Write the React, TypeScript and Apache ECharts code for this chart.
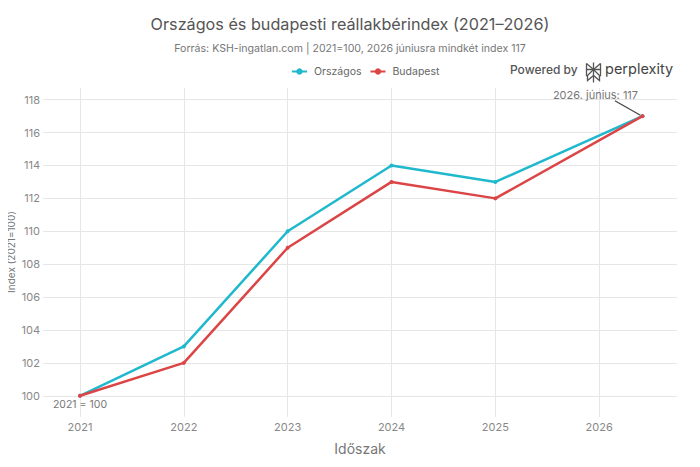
import React, { useEffect, useRef } from "react";
import * as echarts from "echarts";

// Decimal years: the last observation is June 2026
const periods = [2021, 2022, 2023, 2024, 2025, 2026 + 5 / 12];
const orszagos = [100, 103, 110, 114, 113, 117];
const budapest = [100, 102, 109, 113, 112, 117];
const yearTicks = [2021, 2022, 2023, 2024, 2025, 2026];

const FONT = "Inter, 'Liberation Sans', sans-serif";
const TEAL = "#1FB8CD";
const RED = "#DB4545";

export default function App() {
  const ref = useRef<HTMLDivElement>(null);

  useEffect(() => {
    if (!ref.current) return;
    const chart = echarts.init(ref.current, null, { renderer: "svg" });

    const toPairs = (vals: number[]) => periods.map((p, i) => [p, vals[i]]);
    const lastX = periods[periods.length - 1];

    chart.setOption({
      animation: false,
      backgroundColor: "#ffffff",
      textStyle: { fontFamily: FONT },
      title: {
        text: "Országos és budapesti reállakbérindex (2021–2026)",
        subtext: "Forrás: KSH-ingatlan.com | 2021=100, 2026 júniusra mindkét index 117",
        left: "center",
        top: 11,
        itemGap: 11,
        textStyle: { fontFamily: FONT, fontSize: 16.2, fontWeight: "normal", color: "#555" },
        subtextStyle: { fontFamily: FONT, fontSize: 10.6, color: "#777" },
      },
      legend: {
        top: 61,
        left: 286,
        itemWidth: 15,
        itemHeight: 8,
        itemGap: 8,
        textStyle: { fontFamily: FONT, fontSize: 10.5, color: "#666", padding: [0, 0, 0, 2] },
        data: ["Országos", "Budapest"],
      },
      grid: { left: 43, right: 23, top: 88, bottom: 50, containLabel: false, outerBoundsMode: "none" },
      xAxis: {
        type: "value",
        min: 2020.644,
        max: 2026.749,
        minInterval: 1,
        maxInterval: 1,
        name: "Időszak",
        nameLocation: "middle",
        nameGap: 24,
        nameMoveOverlap: false,
        nameTextStyle: { fontFamily: FONT, fontSize: 14, color: "#777" },
        axisLine: { show: false },
        axisTick: { show: false },
        axisLabel: {
          fontFamily: FONT,
          fontSize: 11,
          color: "#888",
          margin: 4,
          showMinLabel: false,
          showMaxLabel: false,
          formatter: (v: number) => (yearTicks.includes(Math.round(v)) ? String(Math.round(v)) : ""),
        },
        splitLine: {
          show: true,
          showMinLine: false,
          showMaxLine: false,
          lineStyle: { color: "#e6e6e6", width: 1 },
        },
      },
      yAxis: {
        type: "value",
        min: 98.71,
        max: 118.71,
        minInterval: 2,
        maxInterval: 2,
        axisLine: { show: false },
        axisTick: { show: false },
        axisLabel: {
          fontFamily: FONT,
          fontSize: 11,
          color: "#888",
          margin: 3,
          showMinLabel: false,
          showMaxLabel: false,
        },
        splitLine: {
          show: true,
          showMinLine: false,
          showMaxLine: false,
          lineStyle: { color: "#e6e6e6", width: 1 },
        },
      },
      series: [
        {
          name: "Országos",
          type: "line",
          data: toPairs(orszagos),
          color: TEAL,
          symbol: "circle",
          symbolSize: 4,
          lineStyle: { width: 2.5, color: TEAL },
          itemStyle: { color: TEAL },
          z: 2,
        },
        {
          name: "Budapest",
          type: "line",
          data: toPairs(budapest),
          color: RED,
          symbol: "circle",
          symbolSize: 4,
          lineStyle: { width: 2.5, color: RED },
          itemStyle: { color: RED },
          z: 3,
          markPoint: {
            silent: true,
            symbol: "circle",
            symbolSize: 0,
            data: [
              {
                coord: [periods[0], budapest[0]],
                label: {
                  show: true,
                  position: "inside",
                  offset: [0, 9],
                  formatter: "2021 = 100",
                  fontFamily: FONT,
                  fontSize: 10.5,
                  color: "#777",
                },
              },
              {
                coord: [lastX, budapest[budapest.length - 1]],
                label: {
                  show: true,
                  position: "inside",
                  offset: [-47, -21],
                  formatter: "2026. június: 117",
                  fontFamily: FONT,
                  fontSize: 11,
                  color: "#777",
                },
              },
            ],
          },
          markLine: {
            silent: true,
            symbol: ["none", "arrow"],
            symbolSize: [0, 7],
            label: { show: false },
            lineStyle: { color: "#444", width: 1.2, type: "solid" },
            data: [
              [
                { coord: [2026.151, 117.94] },
                { coord: [lastX - 0.02, 117.05] },
              ],
            ],
          },
        },
      ],
      graphic: [
        {
          type: "text",
          x: 11,
          y: 252,
          rotation: Math.PI / 2,
          style: {
            text: "Index (2021=100)",
            fontFamily: FONT,
            fontSize: 10,
            fill: "#777",
            align: "center",
            verticalAlign: "middle",
          },
        },
        {
          type: "text",
          left: 510,
          top: 63,
          style: {
            text: "Powered by",
            fontFamily: FONT,
            fontSize: 12,
            fontWeight: 500,
            fill: "#555",
          },
        },
        {
          type: "group",
          left: 584,
          top: 60,
          children: [
            { type: "line", shape: { x1: 8, y1: 0, x2: 8, y2: 20 }, style: { stroke: "#555", lineWidth: 1.3 } },
            { type: "line", shape: { x1: 1, y1: 1, x2: 8, y2: 7 }, style: { stroke: "#555", lineWidth: 1.3 } },
            { type: "line", shape: { x1: 15, y1: 1, x2: 8, y2: 7 }, style: { stroke: "#555", lineWidth: 1.3 } },
            { type: "polyline", shape: { points: [[1, 1], [1, 7], [15, 7], [15, 1]] }, style: { stroke: "#555", lineWidth: 1.3, fill: "none" } },
            { type: "polyline", shape: { points: [[8, 7], [2, 13], [2, 18], [8, 13]] }, style: { stroke: "#555", lineWidth: 1.3, fill: "none" } },
            { type: "polyline", shape: { points: [[8, 7], [14, 13], [14, 18], [8, 13]] }, style: { stroke: "#555", lineWidth: 1.3, fill: "none" } },
            { type: "polyline", shape: { points: [[1, 7], [1, 13], [2, 13]] }, style: { stroke: "#555", lineWidth: 1.3, fill: "none" } },
            { type: "polyline", shape: { points: [[15, 7], [15, 13], [14, 13]] }, style: { stroke: "#555", lineWidth: 1.3, fill: "none" } },
          ],
        },
        {
          type: "text",
          left: 605,
          top: 61,
          style: {
            text: "perplexity",
            fontFamily: FONT,
            fontSize: 14.5,
            fill: "#444",
          },
        },
      ],
    });

    return () => chart.dispose();
  }, []);

  return <div ref={ref} style={{ width: 700, height: 467, margin: -8 }} />;
}
